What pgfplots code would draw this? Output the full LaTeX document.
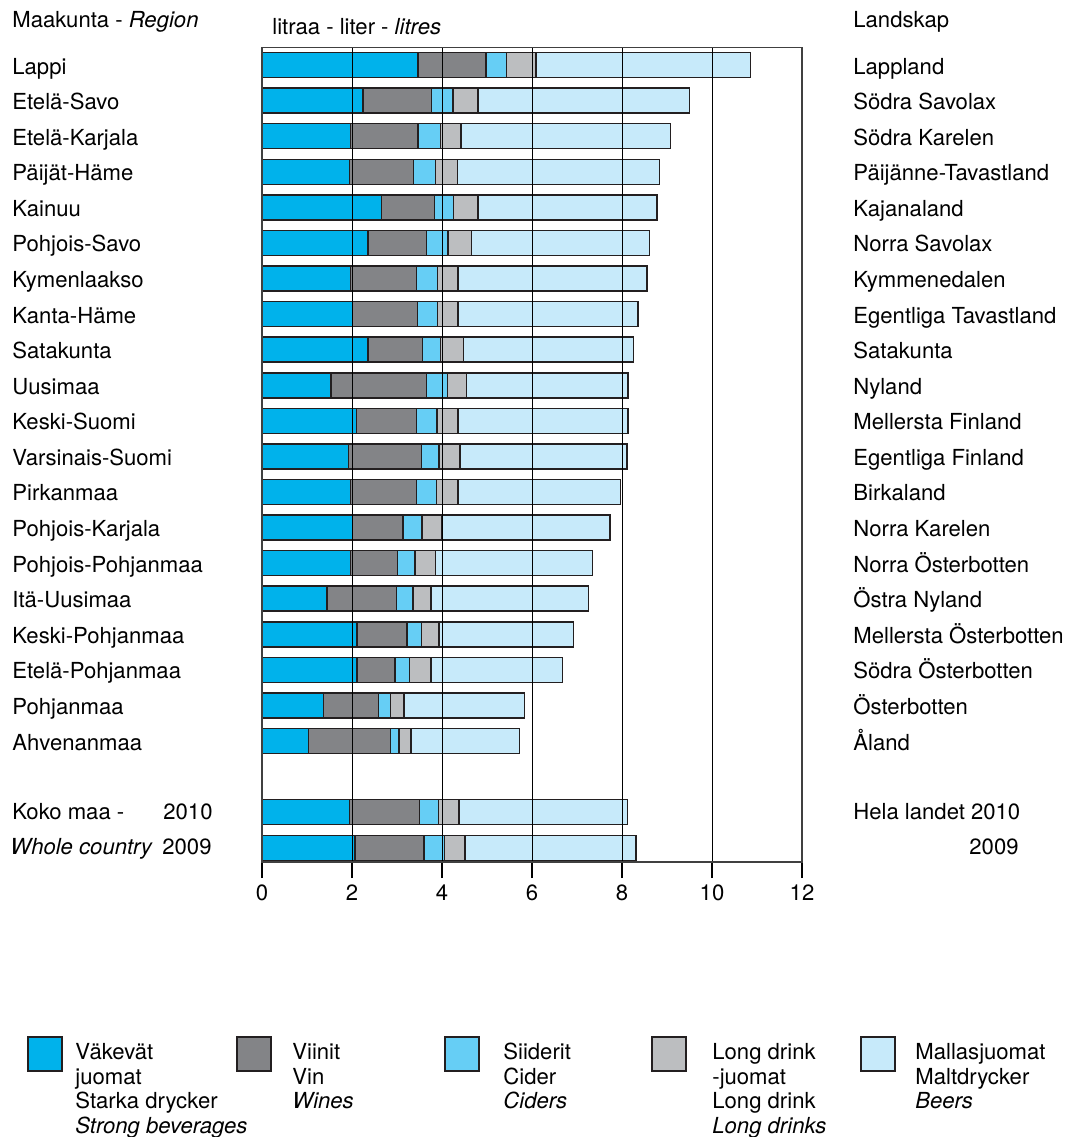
\documentclass[border=0pt]{standalone}
\usepackage{fontspec}
\setmainfont{TeX Gyre Heros}
\usepackage{pgfplots}
\usepackage{pgfplotstable}
\pgfplotsset{compat=1.18}

\definecolor{cStrong}{RGB}{0,178,235}
\definecolor{cWine}{RGB}{131,132,135}
\definecolor{cCider}{RGB}{102,206,245}
\definecolor{cLong}{RGB}{188,190,192}
\definecolor{cBeer}{RGB}{199,234,250}
\definecolor{edge}{RGB}{35,31,32}

% litres per capita, by region; idx 21 = 2010, 22 = 2009
\pgfplotstableread{
idx strong wine cider long beer
0  3.47 1.51 0.45 0.66 4.77
1  2.24 1.53 0.47 0.56 4.70
2  1.97 1.50 0.50 0.45 4.66
3  1.94 1.43 0.48 0.49 4.49
4  2.66 1.17 0.43 0.54 3.98
5  2.35 1.31 0.47 0.52 3.96
6  1.97 1.46 0.47 0.46 4.20
7  2.01 1.45 0.44 0.46 3.99
8  2.35 1.22 0.40 0.51 3.77
9  1.53 2.13 0.46 0.42 3.59
10 2.10 1.33 0.46 0.46 3.78
11 1.92 1.62 0.39 0.47 3.71
12 1.97 1.46 0.45 0.47 3.62
13 2.01 1.12 0.42 0.45 3.73
14 1.97 1.04 0.39 0.45 3.49
15 1.44 1.55 0.37 0.40 3.50
16 2.11 1.11 0.32 0.39 2.99
17 2.11 0.84 0.33 0.47 2.93
18 1.37 1.22 0.26 0.31 2.67
19 1.03 1.82 0.19 0.27 2.41
21 1.94 1.56 0.42 0.46 3.74
22 2.07 1.53 0.45 0.46 3.80
}\drinks

\begin{document}
\begin{tikzpicture}[font=\fontsize{11.05}{12.3}\selectfont]
\useasboundingbox (0,0) rectangle (534.5pt,-568.5pt);

\begin{axis}[
  at={(131pt,-431pt)}, anchor=south west,
  scale only axis, width=270pt, height=407.2pt,
  xbar stacked, bar width=12.5pt,
  y dir=reverse, ymin=-0.49, ymax=22.4,
  xmin=0, xmax=12,
  xtick={0,2,...,12}, ytick=\empty,
  xtick pos=bottom, tick align=outside, major tick length=8pt,
  xmajorgrids, grid style={black, line width=0.5pt},
  axis line style={line width=0.7pt, black!75},
  tick style={black, line width=0.6pt},
  axis on top,
  ticklabel style={font=\fontsize{11.05}{12.3}\selectfont},
  /pgf/number format/assume math mode=true,
  every axis plot/.append style={draw=edge, line width=0.75pt},
  clip=false,
]
\addplot[fill=cStrong] table[x=strong, y=idx] {\drinks};
\addplot[fill=cWine]   table[x=wine,   y=idx] {\drinks};
\addplot[fill=cCider]  table[x=cider,  y=idx] {\drinks};
\addplot[fill=cLong]   table[x=long,   y=idx] {\drinks};
\addplot[fill=cBeer]   table[x=beer,   y=idx] {\drinks};
\end{axis}

\begin{scope}[x=0.5pt, y=-0.5pt, every node/.style={inner sep=0pt}]
  \node[anchor=base west] at (12,27) {Maakunta - \textit{Region}};
  \node[anchor=base west] at (272,34) {litraa - liter - \textit{litres}};
  \node[anchor=base west] at (853,27) {Landskap};

  \foreach \n [count=\i from 0] in {Lappi, Etelä-Savo, Etelä-Karjala, Päijät-Häme,
      Kainuu, Pohjois-Savo, Kymenlaakso, Kanta-Häme, Satakunta, Uusimaa,
      Keski-Suomi, Varsinais-Suomi, Pirkanmaa, Pohjois-Karjala,
      Pohjois-Pohjanmaa, Itä-Uusimaa, Keski-Pohjanmaa, Etelä-Pohjanmaa,
      Pohjanmaa, Ahvenanmaa}
    \node[anchor=base west] at (12,{74+\i*35.58}) {\n};

  \foreach \n [count=\i from 0] in {Lappland, Södra Savolax, Södra Karelen,
      Päijänne-Tavastland, Kajanaland, Norra Savolax, Kymmenedalen,
      Egentliga Tavastland, Satakunta, Nyland, Mellersta Finland,
      Egentliga Finland, Birkaland, Norra Karelen, Norra Österbotten,
      Östra Nyland, Mellersta Österbotten, Södra Österbotten, Österbotten, Åland}
    \node[anchor=base west] at (853,{74+\i*35.58}) {\n};

  \node[anchor=base west] at (12,819) {Koko maa -};
  \node[anchor=base west] at (163,819) {2010};
  \node[anchor=base west] at (10,854) {\textit{Whole country}};
  \node[anchor=base west] at (162,854) {2009};
  \node[anchor=base west] at (853,819) {Hela landet 2010};
  \node[anchor=base east] at (1019,854) {2009};

  % legend
  \draw[fill=cStrong, draw=edge, line width=0.8pt] (28,1037) rectangle (62,1071);
  \draw[fill=cWine,   draw=edge, line width=0.8pt] (237,1037) rectangle (271,1071);
  \draw[fill=cCider,  draw=edge, line width=0.8pt] (445,1037) rectangle (479,1071);
  \draw[fill=cLong,   draw=edge, line width=0.8pt] (652,1037) rectangle (686,1071);
  \draw[fill=cBeer,   draw=edge, line width=0.8pt] (861,1037) rectangle (895,1071);

  \node[anchor=base west] at (75,1059) {Väkevät};
  \node[anchor=base west] at (75,1084) {juomat};
  \node[anchor=base west] at (75,1108) {Starka drycker};
  \node[anchor=base west] at (75,1133) {\textit{Strong beverages}};

  \node[anchor=base west] at (292,1059) {Viinit};
  \node[anchor=base west] at (292,1084) {Vin};
  \node[anchor=base west] at (292,1108) {\textit{Wines}};

  \node[anchor=base west] at (503,1059) {Siiderit};
  \node[anchor=base west] at (503,1084) {Cider};
  \node[anchor=base west] at (503,1108) {\textit{Ciders}};

  \node[anchor=base west] at (712,1059) {Long drink};
  \node[anchor=base west] at (712,1084) {-juomat};
  \node[anchor=base west] at (712,1108) {Long drink};
  \node[anchor=base west] at (712,1133) {\textit{Long drinks}};

  \node[anchor=base west] at (915,1059) {Mallasjuomat};
  \node[anchor=base west] at (915,1084) {Maltdrycker};
  \node[anchor=base west] at (915,1108) {\textit{Beers}};
\end{scope}
\end{tikzpicture}
\end{document}
